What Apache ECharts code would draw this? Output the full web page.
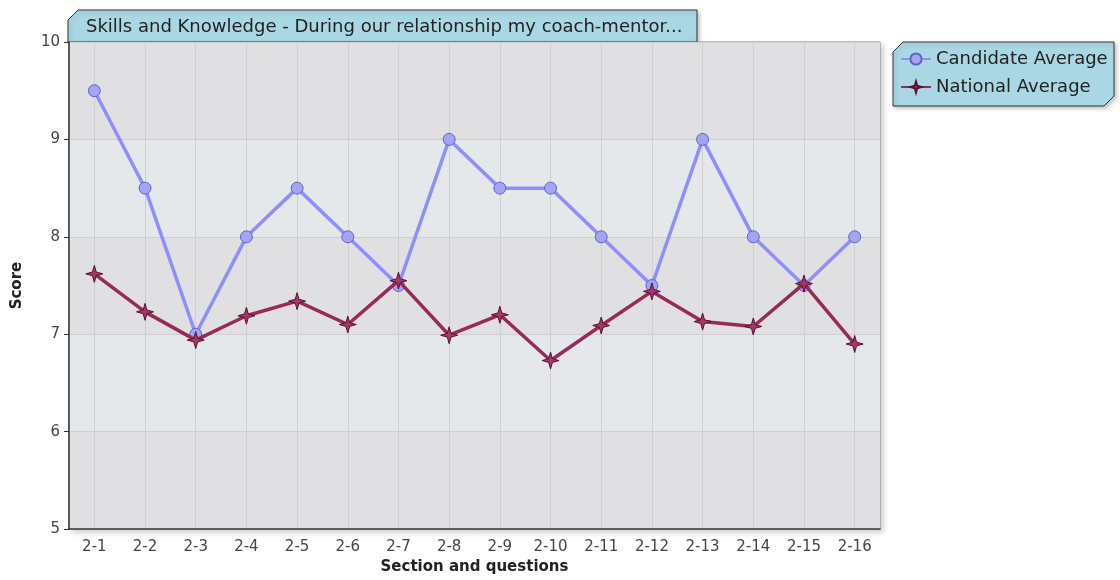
<!DOCTYPE html>
<html>
<head>
<meta charset="utf-8">
<script src="https://cdn.jsdelivr.net/npm/echarts@6/dist/echarts.min.js"></script>
<style>
  html, body { margin: 0; padding: 0; background: #fff; }
  #chart { width: 1120px; height: 580px; }
</style>
</head>
<body>
<div id="chart"></div>
<script>
const categories = ["2-1", "2-2", "2-3", "2-4", "2-5", "2-6", "2-7", "2-8",
  "2-9", "2-10", "2-11", "2-12", "2-13", "2-14", "2-15", "2-16"];
const candidateAvg = [9.5, 8.5, 7, 8, 8.5, 8, 7.5, 9, 8.5, 8.5, 8, 7.5, 9, 8, 7.5, 8];
const nationalAvg = [7.62, 7.23, 6.94, 7.19, 7.34, 7.1, 7.55, 6.99, 7.2, 6.73,
  7.09, 7.44, 7.13, 7.08, 7.52, 6.9];
const yTicks = [5, 6, 7, 8, 9, 10];

const font = "DejaVu Sans, sans-serif";
const star = "path://M0,-10 L2.2,-2.2 L10,0 L2.2,2.2 L0,10 L-2.2,2.2 L-10,0 L-2.2,-2.2 Z";

const chart = echarts.init(document.getElementById("chart"));

const option = {
  animation: false,
  textStyle: { fontFamily: font },
  title: {
    text: "Skills and Knowledge - During our relationship my coach-mentor...",
    left: 86,
    top: 18,
    padding: 0,
    textStyle: { fontSize: 18, fontWeight: "normal", color: "#222", fontFamily: font },
  },
  legend: {
    orient: "vertical",
    left: 900,
    top: 50,
    padding: 0,
    itemGap: 10,
    itemWidth: 30,
    itemHeight: 14,
    textStyle: { fontSize: 18, color: "#222", fontFamily: font },
    data: ["Candidate Average", "National Average"],
  },
  graphic: [
    {
      type: "polygon",
      z: -1,
      shape: { points: [[78, 10], [697, 10], [697, 42], [68, 42], [68, 20]] },
      style: { fill: "#a9d8e4", stroke: "#333", lineWidth: 1,
        shadowBlur: 4, shadowColor: "rgba(0,0,0,0.25)", shadowOffsetX: 2, shadowOffsetY: 2 },
    },
    {
      type: "polygon",
      z: -1,
      shape: { points: [[903, 42], [1114, 42], [1114, 96], [1104, 106], [893, 106], [893, 52]] },
      style: { fill: "#a9d8e4", stroke: "#333", lineWidth: 1,
        shadowBlur: 4, shadowColor: "rgba(0,0,0,0.25)", shadowOffsetX: 2, shadowOffsetY: 2 },
    },
  ],
  grid: {
    left: 69,
    right: 240,
    top: 42,
    bottom: 48,
    show: true,
    borderColor: "#888",
    borderWidth: 1,
    backgroundColor: "#e1e1e3",
    shadowBlur: 6,
    shadowColor: "rgba(0,0,0,0.2)",
    shadowOffsetX: 3,
    shadowOffsetY: 3,
  },
  xAxis: {
    type: "category",
    data: categories,
    boundaryGap: true,
    name: "Section and questions",
    nameLocation: "middle",
    nameGap: 29,
    nameTextStyle: { fontSize: 15, fontWeight: "bold", color: "#222" },
    axisLine: { lineStyle: { color: "#333", width: 1.5 } },
    axisTick: { alignWithLabel: true, length: 5, lineStyle: { color: "#333" } },
    axisLabel: { fontSize: 15, color: "#444", margin: 11, interval: 0 },
    splitLine: { show: true, alignWithLabel: true, lineStyle: { color: "#cfcfd2", width: 1 } },
  },
  yAxis: {
    type: "value",
    min: yTicks[0],
    max: yTicks[yTicks.length - 1],
    interval: 1,
    name: "Score",
    nameLocation: "middle",
    nameGap: 44,
    nameTextStyle: { fontSize: 15, fontWeight: "bold", color: "#222" },
    axisLine: { show: true, lineStyle: { color: "#333", width: 1.5 } },
    axisTick: { show: true, length: 5, lineStyle: { color: "#333" } },
    axisLabel: { fontSize: 15, color: "#444", margin: 9 },
    splitLine: { show: true, lineStyle: { color: "#cfcfd2", width: 1 } },
    splitArea: { show: true, areaStyle: { color: ["#e0e0e2", "#e5e8eb"] } },
  },
  series: [
    {
      name: "Candidate Average",
      type: "line",
      data: candidateAvg,
      symbol: "circle",
      symbolSize: 12,
      lineStyle: { color: "#8e8efc", width: 3.5 },
      itemStyle: { color: "#a4a4f4", borderColor: "#6262c4", borderWidth: 1 },
      z: 2,
    },
    {
      name: "National Average",
      type: "line",
      data: nationalAvg,
      symbol: star,
      symbolSize: 17,
      lineStyle: { color: "#982a56", width: 3.5 },
      itemStyle: { color: "#a3386a", borderColor: "#5a1030", borderWidth: 1 },
      z: 3,
    },
  ],
};

chart.setOption(option);
</script>
</body>
</html>
